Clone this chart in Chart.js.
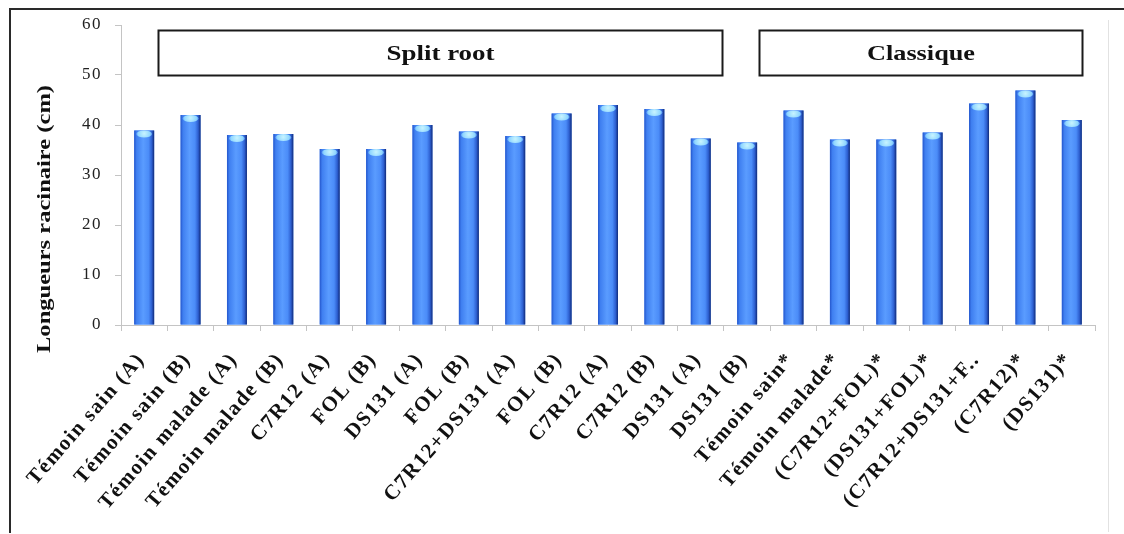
<!DOCTYPE html>
<html>
<head>
<meta charset="utf-8">
<script src="https://cdn.jsdelivr.net/npm/chart.js@4/dist/chart.umd.min.js"></script>
<style>
  html, body { margin: 0; padding: 0; background: #fff; }
  #wrap { width: 1124px; height: 534px; position: relative; }
</style>
</head>
<body>
<div id="wrap"><canvas id="c" width="1124" height="534"></canvas></div>
<script>
// Root length per treatment (cm)
const categories = [
  'Témoin sain (A)', 'Témoin sain (B)', 'Témoin malade (A)', 'Témoin malade (B)',
  'C7R12 (A)', 'FOL (B)', 'DS131 (A)', 'FOL (B)', 'C7R12+DS131 (A)', 'FOL (B)',
  'C7R12 (A)', 'C7R12 (B)', 'DS131 (A)', 'DS131 (B)',
  'Témoin sain*', 'Témoin malade*', '(C7R12+FOL)*', '(DS131+FOL)*',
  '(C7R12+DS131+F..', '(C7R12)*', '(DS131)*'
];
const lengths = [38.9, 42.0, 38.0, 38.2, 35.2, 35.2, 40.0, 38.7, 37.8, 42.3,
                 44.0, 43.2, 37.3, 36.5, 42.9, 37.1, 37.1, 38.5, 44.3, 46.9, 41.0];
const yTicks = [0, 10, 20, 30, 40, 50, 60];

// Experiment groups: label, first/last category position, value band
const groupNames = ['Split root', 'Classique'];
const groupFrom = [0.30, 13.26];
const groupTo = [12.46, 20.22];
const groupLow = 50;
const groupHigh = 59;

const yTitle = 'Longueurs racinaire (cm)';
const serif = "'Liberation Serif', 'DejaVu Serif', serif";
const tickSpacing = '1.5px';

// Outer frame around the figure; wider letter spacing for axis tick text
const framePlugin = {
  id: 'frame',
  beforeLayout(chart) { chart.ctx.letterSpacing = tickSpacing; },
  beforeDraw(chart) {
    const ctx = chart.ctx;
    ctx.save();
    ctx.fillStyle = '#fff';
    ctx.fillRect(0, 0, chart.width, chart.height);
    ctx.strokeStyle = '#e2e2e2';
    ctx.lineWidth = 1;
    ctx.beginPath();
    ctx.moveTo(1108.5, 20); ctx.lineTo(1108.5, 532);
    ctx.stroke();
    ctx.strokeStyle = '#2a2a2a';
    ctx.lineWidth = 2;
    ctx.beginPath();
    ctx.moveTo(1124, 9); ctx.lineTo(10, 9); ctx.lineTo(10, 533);
    ctx.stroke();
    ctx.restore();
    ctx.letterSpacing = tickSpacing;
  },
  beforeDatasetsDraw(chart) { chart.ctx.letterSpacing = '0px'; }
};

// Cylinder shading on top of each bar
const shadePlugin = {
  id: 'shade',
  afterDatasetsDraw(chart) {
    const ctx = chart.ctx;
    const meta = chart.getDatasetMeta(0);
    ctx.save();
    meta.data.forEach(bar => {
      const l = bar.x - bar.width / 2, r = bar.x + bar.width / 2;
      const t = bar.y, b = bar.base;
      const g = ctx.createLinearGradient(l, 0, r, 0);
      g.addColorStop(0, '#2456cc');
      g.addColorStop(0.12, '#3f7ff0');
      g.addColorStop(0.45, '#5a9cff');
      g.addColorStop(0.72, '#4b8cf8');
      g.addColorStop(0.88, '#2d5fd0');
      g.addColorStop(1, '#102a78');
      ctx.fillStyle = g;
      ctx.fillRect(l, t, r - l, b - t);
      const cg = ctx.createRadialGradient(bar.x, t + 3, 0, bar.x, t + 3, bar.width / 2);
      cg.addColorStop(0, '#c8f4ff');
      cg.addColorStop(0.6, '#8fd6ff');
      cg.addColorStop(1, 'rgba(90,160,255,0.2)');
      ctx.fillStyle = cg;
      ctx.beginPath();
      ctx.ellipse(bar.x, t + 3.5, bar.width / 2 - 2, 3.5, 0, 0, Math.PI * 2);
      ctx.fill();
    });
    ctx.restore();
  }
};

// Group boxes and the vertical axis title
const labelsPlugin = {
  id: 'groupsAndTitle',
  afterDraw(chart) {
    const ctx = chart.ctx;
    const xs = chart.scales.x, ys = chart.scales.y;
    ctx.save();
    ctx.letterSpacing = '0px';
    groupNames.forEach((name, i) => {
      const x0 = Math.round(xs.getPixelForValue(groupFrom[i])) + 0.5;
      const x1 = Math.round(xs.getPixelForValue(groupTo[i])) + 0.5;
      const y0 = Math.round(ys.getPixelForValue(groupHigh)) + 0.5;
      const y1 = Math.round(ys.getPixelForValue(groupLow)) + 0.5;
      ctx.strokeStyle = '#1a1a1a';
      ctx.lineWidth = 2;
      ctx.strokeRect(x0, y0, x1 - x0, y1 - y0);
      ctx.fillStyle = '#111';
      ctx.font = 'bold 22px ' + serif;
      ctx.textAlign = 'center';
      ctx.textBaseline = 'middle';
      ctx.save();
      ctx.translate((x0 + x1) / 2, (y0 + y1) / 2 + 1);
      const tw = ctx.measureText(name).width;
      ctx.scale(108 / tw, 1);
      ctx.fillText(name, 0, 0);
      ctx.restore();
    });
    ctx.save();
    ctx.translate(45, 219);
    ctx.rotate(-Math.PI / 2);
    ctx.fillStyle = '#111';
    ctx.font = 'bold 19px ' + serif;
    ctx.textAlign = 'center';
    ctx.textBaseline = 'middle';
    const w = ctx.measureText(yTitle).width;
    ctx.scale(268 / w, 1);
    ctx.fillText(yTitle, 0, 0);
    ctx.restore();
    ctx.restore();
  }
};

new Chart(document.getElementById('c'), {
  type: 'bar',
  data: {
    labels: categories,
    datasets: [{
      data: lengths,
      backgroundColor: '#4a8cf5',
      borderWidth: 0,
      barPercentage: 0.86,
      categoryPercentage: 0.5
    }]
  },
  options: {
    responsive: false,
    animation: false,
    devicePixelRatio: 1,
    layout: { padding: { left: 10, right: 29, top: 25, bottom: 0 } },
    plugins: { legend: { display: false }, tooltip: { enabled: false } },
    scales: {
      x: {
        afterFit(s) { s.height = 209; },
        grid: { display: true, drawOnChartArea: false, drawTicks: true, tickLength: 6, color: '#c4c4c4', offset: true },
        border: { display: true, color: '#c4c4c4', width: 1 },
        ticks: {
          autoSkip: false,
          maxRotation: 49,
          minRotation: 49,
          padding: 17,
          labelOffset: -3,
          color: '#111',
          font: { family: serif, size: 21, weight: 'bold' }
        }
      },
      y: {
        min: 0,
        max: 60,
        afterFit(s) { s.width = 111; },
        afterBuildTicks(s) { s.ticks = yTicks.map(v => ({ value: v })); },
        grid: { display: true, drawOnChartArea: false, drawTicks: true, tickLength: 6, color: '#c4c4c4' },
        border: { display: true, color: '#c4c4c4', width: 1 },
        ticks: {
          padding: 13,
          color: '#222',
          font: { family: serif, size: 17 }
        }
      }
    }
  },
  plugins: [framePlugin, shadePlugin, labelsPlugin]
});
</script>
</body>
</html>
